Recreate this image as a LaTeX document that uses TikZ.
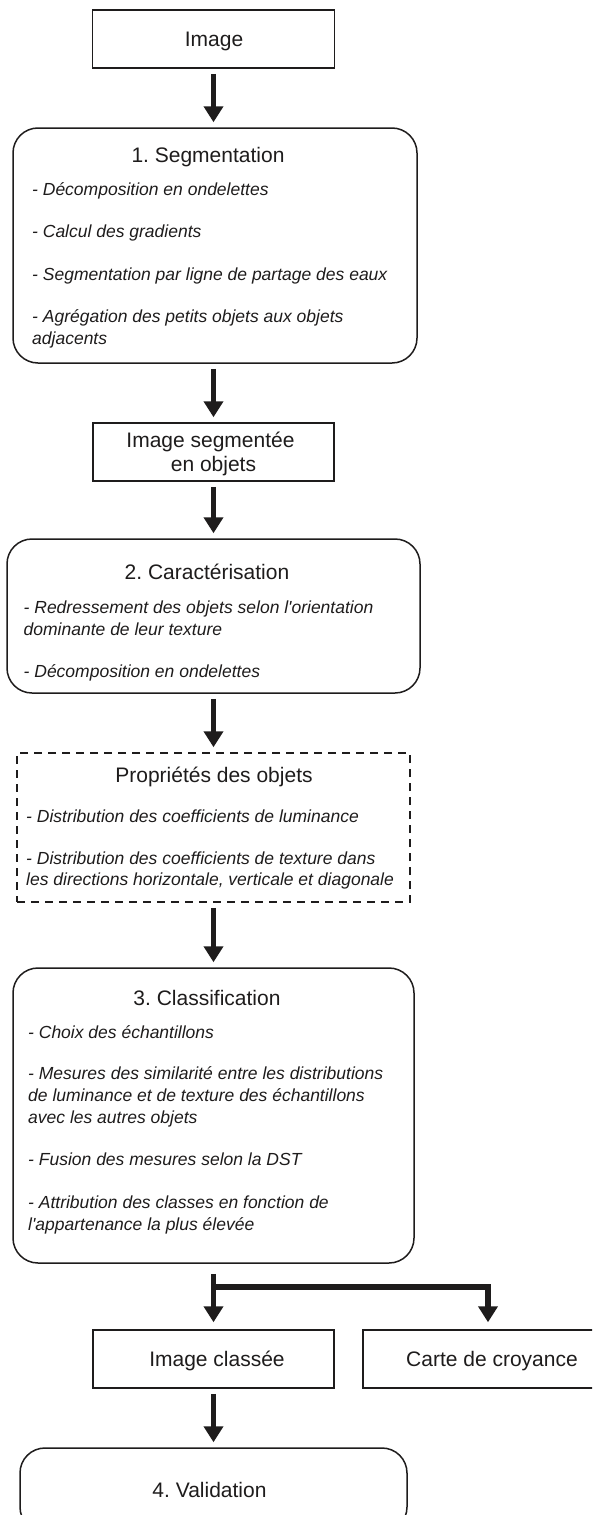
\documentclass[tikz,border=0pt]{standalone}
\usepackage{fontspec}
\setmainfont{Liberation Sans}[Ligatures=TeXOff]
\usetikzlibrary{arrows.meta}
\definecolor{ink}{RGB}{30,28,28}
\frenchspacing
\tikzset{
  box/.style={draw=ink, line width=1.5pt, inner sep=0pt, rectangle},
  rbox/.style={box, rounded corners=25pt},
  dbox/.style={box, dash pattern=on 8pt off 6pt},
  flowarr/.style={draw=ink, line width=5.5pt, -{Triangle[width=19pt,length=16pt]}, shorten <=5pt, shorten >=5pt},
  ttl/.style={font=\fontsize{21}{25}\selectfont, text=ink, anchor=base, inner sep=0pt},
  itm/.style={font=\fontsize{17.5}{21.7}\selectfont\itshape, text=ink, anchor=base west, inner sep=0pt},
}
\begin{document}
\frenchspacing
\begin{tikzpicture}[x=1pt,y=-1pt]
\useasboundingbox (0,0) rectangle (592,1515);
\clip (0,0) rectangle (592,1515);
\fill[white] (0,0) rectangle (592,1515);

% boxes
\node[box, minimum width=242pt, minimum height=58pt] (img) at (213.5,39) {};
\node[rbox, minimum width=404pt, minimum height=235pt] (seg) at (215,245.5) {};
\node[box, minimum width=241pt, minimum height=58pt] (imgseg) at (213.5,452) {};
\node[rbox, minimum width=413pt, minimum height=154pt] (car) at (213.5,616) {};
\node[dbox, minimum width=393pt, minimum height=149pt] (prop) at (213.5,827.5) {};
\node[rbox, minimum width=401pt, minimum height=295pt] (cla) at (213.5,1115.5) {};
\node[box, minimum width=241pt, minimum height=58pt] (imgcl) at (213.5,1359) {};
\node[box, minimum width=250pt, minimum height=58pt] (carte) at (488,1359) {};
\node[rbox, minimum width=387pt, minimum height=84pt] (val) at (213.5,1490) {};

% titles
\node[ttl] (t0) at (214,46) {Image};
\node[ttl] (t1) at (208,162) {1. Segmentation};
\node[ttl] (t2a) at (210.5,447) {Image segmentée};
\node[ttl] (t2b) at (213.5,471) {en objets};
\node[ttl] (t3) at (207,579) {2. Caractérisation};
\node[ttl] (t4) at (214,782) {Propriétés des objets};
\node[ttl] (t5) at (207,1005) {3. Classification};
\node[ttl] (t6) at (217,1366) {Image classée};
\node[ttl] (t7) at (492,1366) {Carte de croyance};
\node[ttl] (t8) at (209.5,1497) {4. Validation};

% segmentation items
\node[itm] (s1) at (32,195) {- Décomposition en ondelettes};
\node[itm] (s2) at (32,237.5) {- Calcul des gradients};
\node[itm] (s3) at (32,280) {- Segmentation par ligne de partage des eaux};
\node[itm] (s4) at (32,322.5) {- Agrégation des petits objets aux objets};
\node[itm] (s5) at (32,344) {adjacents};

% caracterisation items
\node[itm] (c1) at (23.5,613) {- Redressement des objets selon l'orientation};
\node[itm] (c2) at (23.5,635) {dominante de leur texture};
\node[itm] (c3) at (23.5,677) {- Décomposition en ondelettes};

% proprietes items
\node[itm] (p1) at (26,822) {- Distribution des coefficients de luminance};
\node[itm] (p2) at (26,864) {- Distribution des coefficients de texture dans};
\node[itm] (p3) at (26,885) {les directions horizontale, verticale et diagonale};

% classification items
\node[itm] (k1) at (28,1038) {- Choix des échantillons};
\node[itm] (k2) at (28,1079) {- Mesures des similarité entre les distributions};
\node[itm] (k3) at (28,1101) {de luminance et de texture des échantillons};
\node[itm] (k4) at (28,1123) {avec les autres objets};
\node[itm] (k5) at (28,1165.5) {- Fusion des mesures selon la DST};
\node[itm] (k6) at (28,1208) {- Attribution des classes en fonction de};
\node[itm] (k7) at (28,1230) {l'appartenance la plus élevée};

% arrows
\draw[flowarr] (img.south) -- (seg.north -| img.south);
\draw[flowarr] (seg.south -| imgseg.north) -- (imgseg.north);
\draw[flowarr] (imgseg.south) -- (car.north);
\draw[flowarr] (car.south) -- (prop.north);
\draw[flowarr] (prop.south) -- (cla.north);
\draw[flowarr, shorten <=10pt, shorten >=7pt] (cla.south) -- (imgcl.north);
\coordinate (sp) at (213.5,1287);
\draw[flowarr, shorten <=0pt, shorten >=7pt] (sp) -| (carte.north);
\draw[flowarr, shorten <=5pt, shorten >=5pt] (imgcl.south) -- (val.north);
\end{tikzpicture}
\end{document}
